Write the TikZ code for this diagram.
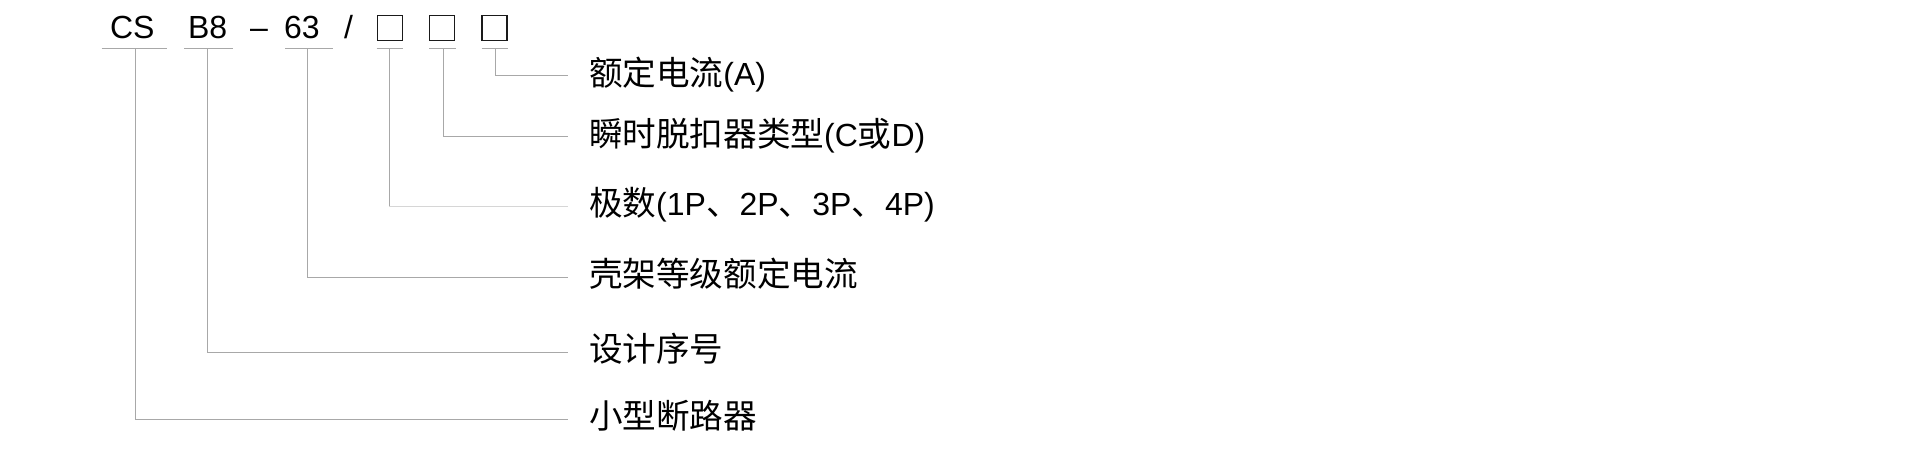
\documentclass[tikz,border=0pt]{standalone}
\usepackage{fontspec}
\setmainfont{Liberation Sans}
\newfontfamily\cjk{Noto Sans CJK SC}[Scale=1.05]
\definecolor{linegray}{HTML}{A8A8A8}
\definecolor{palegray}{HTML}{D6D6D6}
\definecolor{boxdark}{HTML}{1A1A1A}
\begin{document}
\begin{tikzpicture}[x=0.5pt,y=-0.5pt,
  txt/.style={inner sep=0pt, outer sep=0pt, anchor=base west, font=\fontsize{16}{19}\selectfont, text=black},
  sqbox/.style={draw=boxdark, line width=0.65pt, minimum width=12.5pt, minimum height=12.25pt, inner sep=0pt, outer sep=0pt},
  uline/.style={draw=linegray, line width=0.5pt},
  conn/.style={draw=linegray, line width=0.5pt},
  paleconn/.style={draw=palegray, line width=0.5pt}]
\useasboundingbox (0,0) rectangle (1920,449);
\fill[white] (0,0) rectangle (1920,449);
% title parts
\node[txt] (cs) at (110,38.3) {CS};
\node[txt] (b8) at (188,38.3) {B8};
\node[txt] (dash) at (250,38.3) {–};
\node[txt] (n63) at (284,38.3) {63};
\node[txt] (slash) at (344,38.3) {/};
\node[sqbox] (box1) at (390,28) {};
\node[sqbox] (box2) at (442.3,28) {};
\node[sqbox] (box3) at (494.5,28) {};
% underlines
\draw[uline] (101.7,48.3) -- (166.7,48.3);
\draw[uline] (184,48.3) -- (232.7,48.3);
\draw[uline] (285,48.3) -- (333,48.3);
\draw[uline] (376.7,48.3) -- (403.3,48.3);
\draw[uline] (429,48.3) -- (455.5,48.3);
\draw[uline] (481.7,48.3) -- (508.3,48.3);
% start points on underlines
\coordinate (u1) at (135.3,48.3);
\coordinate (u2) at (207.3,48.3);
\coordinate (u3) at (307.3,48.3);
\coordinate (u4) at (389.3,48.3);
\coordinate (u5) at (443.3,48.3);
\coordinate (u6) at (495.7,48.3);
% end points before labels
\coordinate (e6) at (568.3,75.8);
\coordinate (e5) at (568.3,136.7);
\coordinate (e4) at (568.3,206);
\coordinate (e3) at (568.3,277.3);
\coordinate (e2) at (568.3,352.3);
\coordinate (e1) at (568.3,419.3);
% labels
\node[txt] (l6) at (589,85.3) {{\cjk 额定电流}(A)};
\node[txt] (l5) at (589,146.2) {{\cjk 瞬时脱扣器类型}(C{\cjk 或}D)};
\node[txt] (l4) at (589,215.5) {{\cjk 极数}(1P{\cjk 、}2P{\cjk 、}3P{\cjk 、}4P)};
\node[txt] (l3) at (589,286.8) {\cjk 壳架等级额定电流};
\node[txt] (l2) at (589,361.8) {\cjk 设计序号};
\node[txt] (l1) at (589,428.8) {\cjk 小型断路器};
% connectors
\draw[conn] (u6) |- (e6);
\draw[conn] (u5) |- (e5);
\draw[conn] (u4) -- (u4 |- e4);
\draw[paleconn] (u4 |- e4) -- (e4);
\draw[conn] (u3) |- (e3);
\draw[conn] (u2) |- (e2);
\draw[conn] (u1) |- (e1);
\end{tikzpicture}
\end{document}
